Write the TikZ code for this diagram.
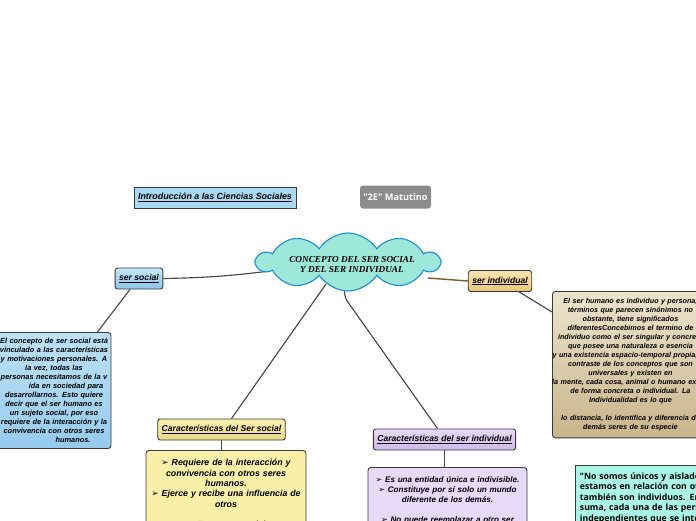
\documentclass[tikz,border=0pt]{standalone}
\usepackage{fontspec}
\setmainfont{Liberation Sans}
\newfontfamily\cloudfont{Liberation Serif}
\newfontfamily\symfont{DejaVu Sans}
\newfontfamily\notefont{Open Sans}
\usetikzlibrary{shapes.symbols,backgrounds}
\pgfdeclarelayer{paper}
\pgfsetlayers{paper,background,main}
\definecolor{boxline}{HTML}{3A3A3A}
\definecolor{linkgray}{HTML}{4A4A4A}
\definecolor{linkbrown}{HTML}{7A5A2E}
\definecolor{introblue}{HTML}{A9D9F2}
\definecolor{gray2e}{HTML}{8C8C8C}
\definecolor{cloudfill}{HTML}{9DE8D9}
\definecolor{cloudblue}{HTML}{1F8DCB}
\definecolor{notefill}{HTML}{A9F5E6}
\definecolor{socialTop}{HTML}{C6E7FA}
\definecolor{socialBot}{HTML}{8CC6EA}
\definecolor{descTop}{HTML}{BCE1F7}
\definecolor{descBot}{HTML}{96CBED}
\definecolor{yellowTop}{HTML}{F8F0B2}
\definecolor{yellowBot}{HTML}{EADA84}
\definecolor{yellowList}{HTML}{F8EFA9}
\definecolor{violetTop}{HTML}{E6D9F7}
\definecolor{violetBot}{HTML}{CDB8E8}
\definecolor{violetList}{HTML}{E7D9F8}
\definecolor{tanTop}{HTML}{F9E4B0}
\definecolor{tanBot}{HTML}{E9C676}
\definecolor{indTop}{HTML}{EDE4CD}
\definecolor{indBot}{HTML}{C8B48A}
\newcommand{\flecha}{{\symfont\char"27A2}}
\newcommand{\renglon}[1]{\makebox[0pt]{#1}}
\tikzset {
	topic/.style={rectangle, draw=boxline, rounded corners=2.5pt, line width=0.9pt, inner xsep=4pt,
					minimum height=21pt, font=\fontsize{8.6}{10}\selectfont\bfseries\itshape},
	detail/.style={rectangle, draw=boxline, rounded corners=3pt, line width=0.9pt, align=center,
					inner xsep=2pt, font=\fontsize{7.4}{9.05}\selectfont\bfseries\itshape},
	bullets/.style={detail, font=\fontsize{8.8}{10.3}\selectfont\bfseries\itshape},
	link/.style={draw=linkgray, line width=1.15pt}
}

\begin{document}
\begin{tikzpicture}[x=1pt,y=-1pt]
\useasboundingbox (0,0) rectangle (696,520);
\begin{pgfonlayer}{paper}
\fill[white] (0,0) rectangle (696,520);
\end{pgfonlayer}

% cabecera
\node [topic, rounded corners=0pt, fill=introblue, minimum width=162pt, font=\fontsize{8.9}{10}\selectfont\bfseries\itshape]
	(intro) at (215,197.5) {\underline{Introducción a las Ciencias Sociales}};
\node [rectangle, rounded corners=3pt, fill=gray2e, text=white, minimum width=71pt, minimum height=23pt,
	font=\notefont\fontsize{9.2}{10}\selectfont\bfseries] (grupo) at (395.5,197) {"2E" Matutino};

% idea central
\node [cloud, cloud puffs=10, cloud puff arc=115, aspect=3, draw=cloudblue, line width=1.1pt, fill=cloudfill,
	minimum width=182pt, minimum height=58pt, inner sep=0pt,
	label={[font=\cloudfont\fontsize{9.2}{10}\selectfont\bfseries\itshape, align=center, xshift=4pt, yshift=-3pt]center:{CONCEPTO DEL SER SOCIAL\\Y DEL SER INDIVIDUAL}}]
	(concepto) at (348,262) {};

% ser social
\node [topic, top color=socialTop, bottom color=socialBot] (serSocial) at (139,278.5) {\underline{ser social}};
\node [detail, text width=110pt, inner ysep=5.5pt, top color=descTop, bottom color=descBot]
	(socialDesc) at (54,390.5) {\renglon{El concepto de ser social está}\\
	\renglon{vinculado a las características}\\
	\renglon{y motivaciones personales. A}\\
	\renglon{la vez, todas las}\\
	\renglon{personas necesitamos de la v}\\
	\renglon{\hspace*{24pt}ida en sociedad para}\\
	\renglon{desarrollarnos. Esto quiere}\\
	\renglon{decir que el ser humano es}\\
	\renglon{un sujeto social, por eso}\\
	\renglon{requiere de la interacción y la}\\
	\renglon{convivencia con otros seres}\\
	\renglon{\hspace*{38pt}humanos.}};
\node [topic, top color=yellowTop, bottom color=yellowBot] (carSocial) at (221.5,429.5)
	{\underline{Características del Ser social}};
\node [bullets, anchor=north, text width=156pt, inner ysep=9pt, fill=yellowList]
	(socialList) at (226,450) {\flecha{} Requiere de la interacción y\\
	convivencia con otros seres\\
	humanos.\\
	\flecha{} Ejerce y recibe una influencia de\\
	otros\\[10.3pt]
	\flecha{} Es un ser social};

% ser individual
\node [topic, top color=tanTop, bottom color=tanBot] (indTitle) at (500,281) {\underline{ser individual}};
\node [detail, anchor=north west, text width=152pt, inner ysep=6.5pt, top color=indTop, bottom color=indBot,
	font=\fontsize{7.2}{9.05}\selectfont\bfseries\itshape]
	(indDesc) at (552,291) {\renglon{El ser humano es individuo y persona,}\\
	\renglon{términos que parecen sinónimos no}\\
	\renglon{obstante, tiene significados}\\
	\renglon{diferentesConcebimos el termino de}\\
	\renglon{individuo como el ser singular y concreto}\\
	\renglon{que posee una naturaleza o esencia}\\
	\renglon{y una existencia espacio-temporal propia, en}\\
	\renglon{contraste de los conceptos que son}\\
	\renglon{universales y existen en}\\
	\renglon{la mente, cada cosa, animal o humano existe}\\
	\renglon{de forma concreta o individual. La}\\
	\renglon{Individualidad es lo que}\\[9.05pt]
	\renglon{lo distancia, lo identifica y diferencia de}\\
	\renglon{demás seres de su especie}};
\node [topic, top color=violetTop, bottom color=violetBot] (carInd) at (444.5,439.5)
	{\underline{Características del ser individual}};
\node [bullets, anchor=north, text width=155pt, inner ysep=9.5pt, fill=violetList,
	font=\fontsize{8.1}{10}\selectfont\bfseries\itshape]
	(indList) at (447.5,467) {\flecha{} Es una entidad única e indivisible.\\
	\flecha{} Constituye por sí solo un mundo\\
	diferente de los demás.\\[10pt]
	\flecha{} No puede reemplazar a otro ser};

% cita
\node [rectangle, draw=boxline, line width=0.9pt, fill=notefill, anchor=north west, align=left, text width=170pt,
	inner xsep=4.5pt, inner ysep=7pt, font=\notefont\fontsize{8.7}{10.5}\selectfont\bfseries]
	(cita) at (575,465) {"No somos únicos y aislados,\\
	estamos en relación con otros que\\
	también son individuos. En\\
	suma, cada una de las personas\\
	independientes que se interrelacionan};

% conectores
\begin{pgfonlayer}{background}
\draw [link] (serSocial.east) to[bend right=3] ([shift={(-78,9)}]concepto.center);
\draw [link, draw=linkbrown, line width=1.4pt] ([shift={(80,16)}]concepto.center) -- (indTitle.west);
\draw [link] ([shift={(-22,22)}]concepto.center) -- ([xshift=10pt]carSocial.north);
\draw [link, rounded corners=4pt] ([shift={(-4,24)}]concepto.center) -- ([shift={(-3,36)}]concepto.center)
	-- ([xshift=-7pt]carInd.north);
\end{pgfonlayer}
\draw [link] ([xshift=-9pt]serSocial.south) -- ([xshift=-14pt]socialDesc.north east);
\draw [link] (carSocial.south) -- (carSocial.south |- socialList.north);
\draw [link] (carInd.south) -- (carInd.south |- indList.north);
\draw [link] ([xshift=-13pt]indTitle.south east) -- ([yshift=-21pt]indDesc.north west);
\end{tikzpicture}
\end{document}
